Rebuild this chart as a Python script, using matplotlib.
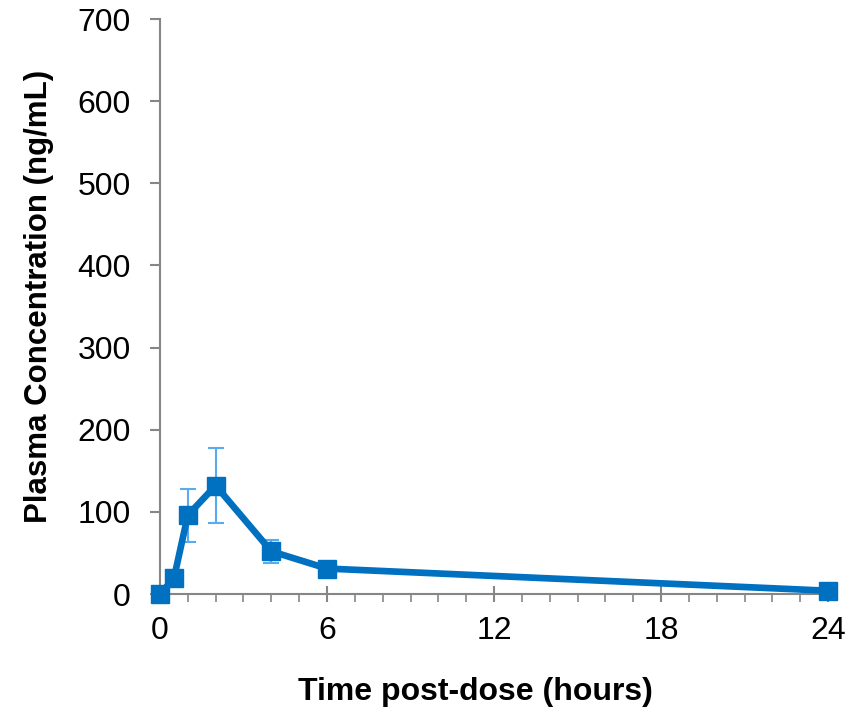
import numpy as np
import matplotlib.pyplot as plt
from matplotlib.ticker import MultipleLocator

time_h = [0, 0.5, 1, 2, 4, 6, 24]
conc = [0, 19, 96, 132, 52, 31, 4]
err_hi = [0, 0, 32, 46, 14, 0, 0]
err_lo = [0, 0, 33, 46, 14, 0, 0]

plt.rcParams['font.family'] = ['Liberation Sans', 'DejaVu Sans']

fig = plt.figure(figsize=(8.62, 7.12), dpi=100)
ax = fig.add_axes([0.1856, 0.1657, 0.7750, 0.8076])

ax.errorbar(time_h, conc, yerr=[err_lo, err_hi], fmt='none', ecolor='#5AAAF0',
            elinewidth=1.5, capsize=6, capthick=1.5, zorder=2)
ax.plot(time_h, conc, color='#0070C0', linewidth=4.8, marker='s', markersize=13.5,
        markerfacecolor='#0070C0', markeredgecolor='#0070C0', clip_on=False, zorder=3)

ax.set_xlim(0, 24)
ax.set_ylim(0, 700)
ax.xaxis.set_major_locator(MultipleLocator(6))
ax.xaxis.set_minor_locator(MultipleLocator(1))
ax.yaxis.set_major_locator(MultipleLocator(100))

for s in ['top', 'right']:
    ax.spines[s].set_visible(False)
for s in ['left', 'bottom']:
    ax.spines[s].set_color('#868686')
    ax.spines[s].set_linewidth(1.5)

ax.tick_params(axis='x', which='major', direction='inout', length=12, width=1.5,
               color='#868686', labelsize=23, pad=10)
ax.tick_params(axis='x', which='minor', direction='out', length=6, width=1.2,
               color='#868686')
ax.tick_params(axis='y', which='major', direction='out', length=7, width=1.5,
               color='#868686', labelsize=23, pad=14)

ax.set_xlabel('Time post-dose (hours)', fontsize=23, fontweight='bold', labelpad=22, x=0.472)
ax.set_ylabel('Plasma Concentration (ng/mL)', fontsize=22.5, fontweight='bold', labelpad=17, y=0.518)

fig.savefig('out.png', dpi=100)
